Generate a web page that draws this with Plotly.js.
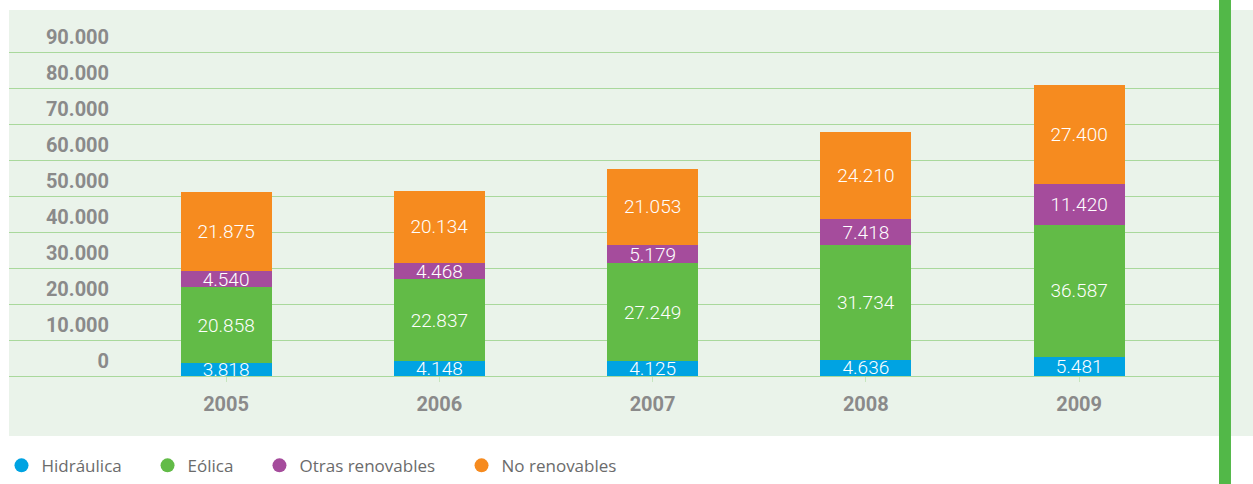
<!DOCTYPE html>
<html>
<head>
<meta charset="utf-8">
<script src="https://cdn.plot.ly/plotly-3.0.1.min.js"></script>
<style>html,body{margin:0;padding:0;background:#fff;}#chart{width:1253px;height:484px;}</style>
</head>
<body>
<div id="chart"></div>
<script>
const years = ["2005", "2006", "2007", "2008", "2009"];
const hidraulica = [3818, 4148, 4125, 4636, 5481];
const eolica = [20858, 22837, 27249, 31734, 36587];
const otras = [4540, 4468, 5179, 7418, 11420];
const noRenovables = [21875, 20134, 21053, 24210, 27400];
const seriesNames = ["Hidráulica", "Eólica", "Otras renovables", "No renovables"];
const seriesColors = ["#00A3E2", "#62BB47", "#A54C9C", "#F68B1F"];
const yTicks = [0, 10000, 20000, 30000, 40000, 50000, 60000, 70000, 80000, 90000];

const seriesValues = [hidraulica, eolica, otras, noRenovables];
const legendIds = ["legend", "legend2", "legend3", "legend4"];
const legendX = [-0.0062, 0.1145, 0.2070, 0.3740];
const traces = [];
seriesValues.forEach((vals, i) => {
  traces.push({
    type: "bar",
    x: years,
    y: vals,
    name: seriesNames[i],
    marker: { color: seriesColors[i] },
    width: 0.427,
    texttemplate: "%{y:,.0f}",
    textposition: "inside",
    insidetextanchor: "middle",
    textangle: 0,
    constraintext: "none",
    textfont: { family: "Roboto", size: 19, color: "#ffffff", weight: 300 },
    showlegend: false,
    hoverinfo: "skip"
  });
});
seriesNames.forEach((n, i) => {
  traces.push({
    type: "scatter",
    mode: "markers",
    x: [null],
    y: [null],
    name: n,
    legend: legendIds[i],
    marker: { color: seriesColors[i], size: 14, symbol: "circle" },
    showlegend: true,
    hoverinfo: "skip"
  });
});

const layout = {
  width: 1253,
  height: 484,
  margin: { l: 9, r: 34, t: 10, b: 48, autoexpand: false },
  paper_bgcolor: "#ffffff",
  plot_bgcolor: "#EAF3EA",
  barmode: "stack",
  separators: ",.",
  showlegend: true,
  xaxis: {
    type: "category",
    range: [-1.018, 4.656],
    anchor: "free",
    position: 0.1401,
    showgrid: false,
    zeroline: false,
    showline: false,
    ticks: "outside",
    ticklen: 5,
    tickwidth: 1,
    tickcolor: "#C6E5BE",
    ticklabelstandoff: 5,
    tickfont: { family: "Roboto", size: 20, color: "#8A8A8A", weight: "bold" },
    fixedrange: true
  },
  yaxis: {
    range: [-16583, 101750],
    anchor: "free",
    position: 0.0827,
    tickvals: yTicks,
    tickformat: ",.0f",
    showgrid: true,
    gridcolor: "#A9D89C",
    gridwidth: 1.5,
    zeroline: false,
    showline: false,
    ticks: "",
    ticklabelshift: -15,
    tickfont: { family: "Roboto", size: 20, color: "#8A8A8A", weight: "bold" },
    fixedrange: true
  },
  shapes: [
    { type: "rect", xref: "paper", yref: "paper", x0: 1, x1: 1.0282, y0: 0, y1: 1,
      fillcolor: "#EAF3EA", line: { width: 0 }, layer: "below" },
    { type: "rect", xref: "paper", yref: "paper", x0: 1, x1: 1.0099, y0: -0.1127, y1: 1.0235,
      fillcolor: "#52B848", line: { width: 0 }, layer: "above" }
  ]
};
legendIds.forEach((id, i) => {
  layout[id] = {
    orientation: "h",
    x: legendX[i],
    xanchor: "left",
    y: -0.07,
    yanchor: "middle",
    font: { family: "Open Sans", size: 17, color: "#6B6B6B" },
    bgcolor: "rgba(0,0,0,0)"
  };
});

Plotly.newPlot("chart", traces, layout, { displayModeBar: false, staticPlot: true });
</script>
</body>
</html>
